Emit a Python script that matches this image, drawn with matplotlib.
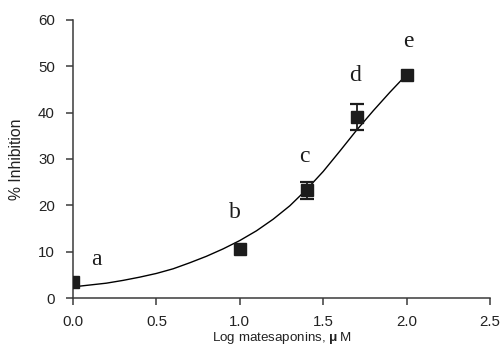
import matplotlib
matplotlib.use("Agg")
import matplotlib.pyplot as plt

# Measured data
log_conc = [0.0, 1.0, 1.4, 1.7, 2.0]
inhibition = [3.5, 10.5, 23.2, 39.1, 48.2]
errors = [0.0, 0.0, 1.9, 2.85, 0.0]
group_letters = ["a", "b", "c", "d", "e"]
letter_x = [0.14, 0.97, 1.39, 1.69, 2.01]
letter_y = [8.4, 18.4, 30.5, 48.0, 55.3]

# Fitted curve
curve_x = [0.0, 0.1, 0.2, 0.3, 0.4, 0.5, 0.6, 0.7, 0.8, 0.9, 1.0,
           1.1, 1.2, 1.3, 1.4, 1.5, 1.6, 1.7, 1.8, 1.9, 2.0]
curve_y = [2.4, 2.8, 3.2, 3.8, 4.5, 5.3, 6.3, 7.6, 9.0, 10.6, 12.4,
           14.5, 17.0, 19.9, 23.4, 27.3, 31.7, 36.2, 40.4, 44.4, 48.2]

xticks = [0.0, 0.5, 1.0, 1.5, 2.0, 2.5]
yticks = [0, 10, 20, 30, 40, 50, 60]

plt.rcParams['font.family'] = ['Liberation Sans', 'DejaVu Sans']
plt.rcParams['mathtext.fontset'] = 'custom'
plt.rcParams['mathtext.rm'] = 'Liberation Sans'
plt.rcParams['mathtext.bf'] = 'Liberation Sans:bold'

fig = plt.figure(figsize=(5.0, 3.52), dpi=100)
ax = fig.add_axes([0.146, 0.1534, 0.834, 0.79])

dark = '#1c1c1c'
axc = '#3a3a3a'
tc = '#222222'

ax.plot(curve_x, curve_y, color='black', lw=1.0, zorder=2)
ax.plot(log_conc, inhibition, 's', color=dark, markersize=9, zorder=3)
ex = [x for x, e in zip(log_conc, errors) if e > 0]
ey = [y for y, e in zip(inhibition, errors) if e > 0]
ee = [e for e in errors if e > 0]
ax.errorbar(ex, ey, yerr=ee, fmt='none', ecolor=dark, elinewidth=1.3,
            capsize=4.8, capthick=1.6, zorder=3)

for lx, ly, t in zip(letter_x, letter_y, group_letters):
    ax.text(lx, ly, t, ha='center', va='center', fontsize=17,
            family=['Liberation Serif', 'DejaVu Serif'], color=dark)

ax.set_xlim(0, 2.5)
ax.set_ylim(0, 60)
ax.set_xticks(xticks)
ax.set_xticklabels([f"{v:.1f}" for v in xticks])
ax.set_yticks(yticks)
for s in ['top', 'right']:
    ax.spines[s].set_visible(False)
for s in ['left', 'bottom']:
    ax.spines[s].set_color(axc)
    ax.spines[s].set_linewidth(1.1)
ax.tick_params(direction='out', length=5, width=1.1, color=axc,
               labelsize=10.8, labelcolor=tc)
ax.tick_params(axis='x', pad=7)
ax.tick_params(axis='y', pad=8)
ax.set_xlabel('Log matesaponins, $\\mathbf{\u03bc}\\,$M', fontsize=9.6,
              color=tc, labelpad=1)
ax.set_ylabel('% Inhibition', fontsize=11.3, color=tc, labelpad=10)

fig.savefig('out.png', dpi=100)
